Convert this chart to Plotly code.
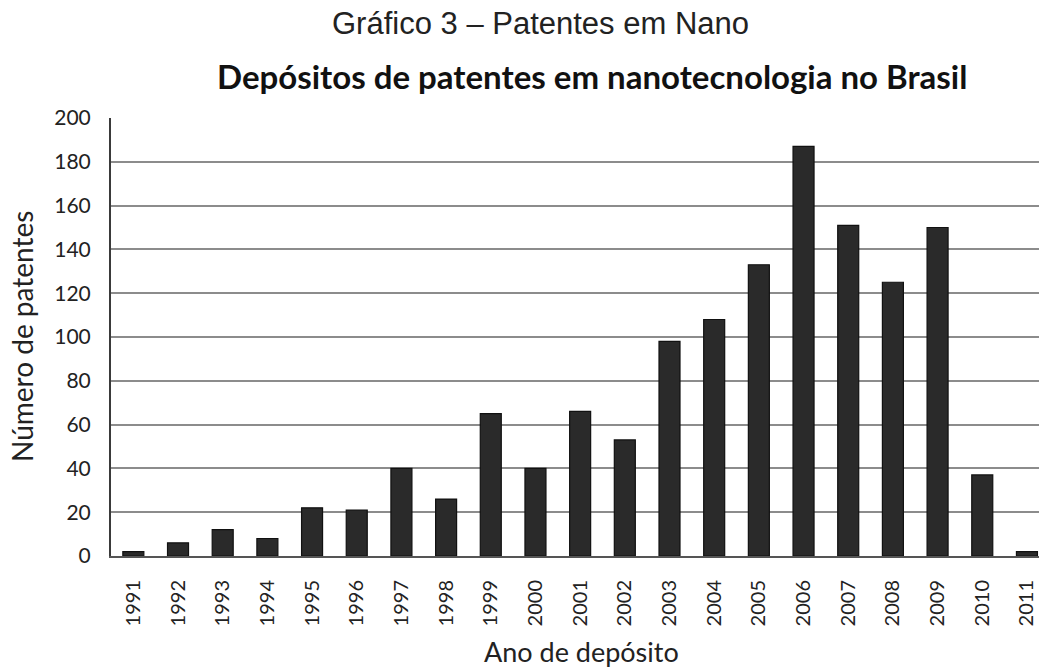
import plotly.graph_objects as go

years = ["1991", "1992", "1993", "1994", "1995", "1996", "1997", "1998", "1999", "2000",
         "2001", "2002", "2003", "2004", "2005", "2006", "2007", "2008", "2009", "2010", "2011"]
patentes = [2, 6, 12, 8, 22, 21, 40, 26, 65, 40, 66, 53, 98, 108, 133, 187, 151, 125, 150, 37, 2]
y_ticks = [0, 20, 40, 60, 80, 100, 120, 140, 160, 180, 200]

title_text = "Gráfico 3 – Patentes em Nano"
subtitle_text = "Depósitos de patentes em nanotecnologia no Brasil"
x_title = "Ano de depósito"
y_title = "Número de patentes"

W, H = 1039, 669
L, R, T, B = 111, 0, 118, 113
PW, PH = W - L - R, H - T - B


def px(x):
    return (x - L) / PW


def py(y):
    return 1 + (T - y) / PH


fig = go.Figure()
fig.add_trace(go.Bar(
    x=list(range(len(years))), y=patentes,
    marker=dict(color="#2a2a2a", line=dict(color="#111111", width=1.2)),
    width=0.47,
))

fig.update_layout(
    width=W, height=H,
    margin=dict(l=L, r=R, t=T, b=B, pad=0),
    paper_bgcolor="white", plot_bgcolor="white",
    showlegend=False,
    font=dict(family="Lato, Open Sans, sans-serif", color="#222222"),
    xaxis=dict(
        range=[-0.5, 20.27],
        tickmode="array", tickvals=list(range(len(years))), ticktext=years,
        tickangle=-90, tickfont=dict(size=20, family="Lato", color="#222"),
        showgrid=False, showline=True, linecolor="#555555", linewidth=2,
        ticks="", ticklen=0, ticklabelstandoff=14,
    ),
    yaxis=dict(
        range=[0, 200],
        tickmode="array", tickvals=y_ticks,
        tickfont=dict(size=21, family="Lato", color="#222"),
        showgrid=True, gridcolor="#8c8c8c", gridwidth=2,
        showline=True, linecolor="#3a3a3a", linewidth=2,
        zeroline=False, ticks="", ticklen=0, ticklabelstandoff=14,
    ),
    annotations=[
        dict(text=title_text, x=px(540), y=py(24), xref="paper", yref="paper",
             xanchor="center", yanchor="middle", showarrow=False,
             font=dict(size=31, family="Liberation Sans", color="#222")),
        dict(text="<b>" + subtitle_text + "</b>", x=px(592), y=py(76),
             xref="paper", yref="paper", xanchor="center", yanchor="middle", showarrow=False,
             font=dict(size=33, family="Lato", color="#111")),
        dict(text=x_title, x=px(581), y=py(651), xref="paper", yref="paper",
             xanchor="center", yanchor="middle", showarrow=False,
             font=dict(size=27, family="Lato", color="#222")),
        dict(text=y_title, x=px(22), y=py(337), xref="paper", yref="paper",
             xanchor="center", yanchor="middle", showarrow=False, textangle=-90,
             font=dict(size=28, family="Lato", color="#222")),
    ],
)

fig.write_html("out.html", config={"displayModeBar": False},
               post_script="document.body.style.margin='0px';document.body.style.overflow='hidden';")
